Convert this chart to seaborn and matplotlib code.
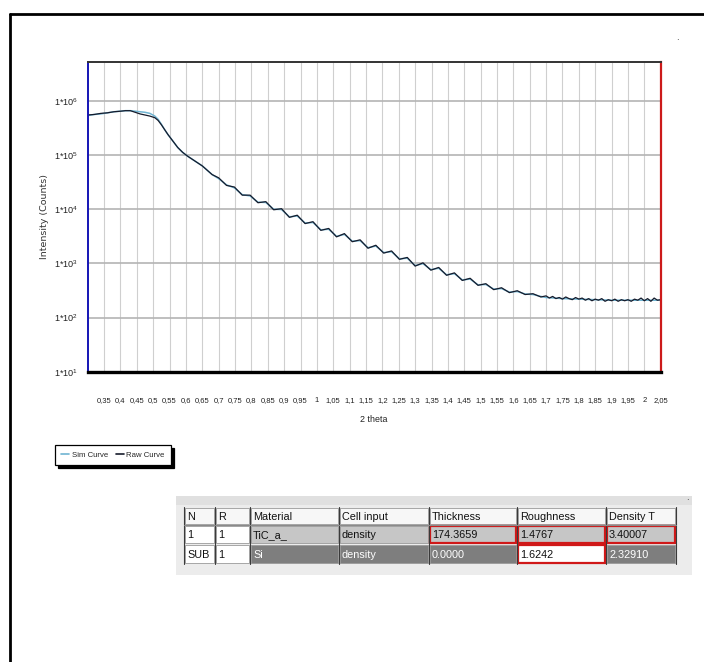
import numpy as np
import pandas as pd
import matplotlib
matplotlib.use("Agg")
import matplotlib.pyplot as plt
import seaborn as sns
from matplotlib.lines import Line2D
from matplotlib.patches import Rectangle
from matplotlib.ticker import FixedLocator, FixedFormatter, LogLocator, NullFormatter, MultipleLocator

# ---------------- data (log10 of counts) ----------------
early_two_theta = [0.300, 0.320, 0.340, 0.360, 0.380, 0.400, 0.415, 0.430, 0.445, 0.460,
                   0.475, 0.490, 0.505, 0.515, 0.525, 0.535, 0.545, 0.555, 0.565, 0.575,
                   0.590, 0.605, 0.620, 0.635, 0.650, 0.665, 0.680]
early_raw_log = [5.74, 5.75, 5.77, 5.78, 5.80, 5.81, 5.82, 5.82, 5.79, 5.76,
                 5.74, 5.72, 5.69, 5.64, 5.56, 5.47, 5.38, 5.30, 5.22, 5.14,
                 5.05, 4.98, 4.92, 4.86, 4.80, 4.72, 4.64]
early_sim_log = [5.73, 5.75, 5.76, 5.78, 5.80, 5.81, 5.82, 5.82, 5.81, 5.80,
                 5.79, 5.77, 5.72, 5.66, 5.57, 5.47, 5.38, 5.30, 5.22, 5.14,
                 5.05, 4.98, 4.92, 4.86, 4.80, 4.72, 4.64]

fringe_two_theta = [0.700, 0.724, 0.748, 0.772, 0.796, 0.820, 0.844, 0.868, 0.892, 0.916,
                    0.940, 0.964, 0.988, 1.012, 1.036, 1.060, 1.084, 1.108, 1.132, 1.156,
                    1.180, 1.204, 1.228, 1.252, 1.276, 1.300, 1.324, 1.348, 1.372, 1.396,
                    1.420, 1.444, 1.468, 1.492, 1.516, 1.540, 1.564, 1.588, 1.612, 1.636,
                    1.660, 1.684]
fringe_raw_log = [4.58, 4.44, 4.41, 4.26, 4.26, 4.12, 4.14, 3.99, 4.01, 3.85,
                  3.89, 3.735, 3.77, 3.61, 3.645, 3.49, 3.55, 3.40, 3.435, 3.28,
                  3.335, 3.19, 3.23, 3.075, 3.11, 2.95, 3.01, 2.875, 2.925, 2.78,
                  2.825, 2.685, 2.725, 2.595, 2.625, 2.515, 2.55, 2.46, 2.495, 2.425,
                  2.44, 2.38]
fringe_sim_log = [4.565, 4.45, 4.395, 4.27, 4.245, 4.13, 4.125, 4.00, 3.995, 3.86,
                  3.875, 3.745, 3.755, 3.62, 3.63, 3.50, 3.535, 3.41, 3.42, 3.29,
                  3.32, 3.20, 3.215, 3.085, 3.095, 2.96, 2.995, 2.885, 2.91, 2.79,
                  2.81, 2.695, 2.71, 2.605, 2.61, 2.525, 2.535, 2.47, 2.48, 2.435,
                  2.425, 2.39]

tail_raw_two_theta = [1.700, 1.710, 1.720, 1.730, 1.740, 1.750, 1.760, 1.770, 1.780, 1.790,
                      1.800, 1.810, 1.820, 1.830, 1.840, 1.850, 1.860, 1.870, 1.880, 1.890,
                      1.900, 1.910, 1.920, 1.930, 1.940, 1.950, 1.960, 1.970, 1.980, 1.990,
                      2.000, 2.010, 2.020, 2.030, 2.040, 2.050]
tail_raw_log = [2.40, 2.36, 2.39, 2.35, 2.37, 2.34, 2.38, 2.35, 2.33, 2.37,
                2.34, 2.36, 2.32, 2.35, 2.31, 2.34, 2.32, 2.35, 2.30, 2.33,
                2.31, 2.34, 2.30, 2.33, 2.31, 2.33, 2.30, 2.34, 2.32, 2.36,
                2.31, 2.35, 2.30, 2.36, 2.32, 2.33]
tail_sim_two_theta = [1.70, 1.75, 1.80, 1.85, 1.90, 1.95, 2.00, 2.05]
tail_sim_log = [2.37, 2.35, 2.34, 2.33, 2.32, 2.32, 2.32, 2.32]

y_tick_values = [1e1, 1e2, 1e3, 1e4, 1e5, 1e6]
y_tick_labels = [r"1*10$^{1}$", r"1*10$^{2}$", r"1*10$^{3}$", r"1*10$^{4}$",
                 r"1*10$^{5}$", r"1*10$^{6}$"]
x_tick_values = [0.35, 0.40, 0.45, 0.50, 0.55, 0.60, 0.65, 0.70, 0.75, 0.80, 0.85, 0.90,
                 0.95, 1.00, 1.05, 1.10, 1.15, 1.20, 1.25, 1.30, 1.35, 1.40, 1.45, 1.50,
                 1.55, 1.60, 1.65, 1.70, 1.75, 1.80, 1.85, 1.90, 1.95, 2.00, 2.05]
x_tick_labels = ["0,35", "0,4", "0,45", "0,5", "0,55", "0,6", "0,65", "0,7", "0,75", "0,8",
                 "0,85", "0,9", "0,95", "1", "1,05", "1,1", "1,15", "1,2", "1,25", "1,3",
                 "1,35", "1,4", "1,45", "1,5", "1,55", "1,6", "1,65", "1,7", "1,75", "1,8",
                 "1,85", "1,9", "1,95", "2", "2,05"]

series_names = ["Sim Curve", "Raw Curve"]

table_columns = ["N", "R", "Material", "Cell input", "Thickness", "Roughness", "Density T"]
table_row1 = ["1", "1", "TiC_a_", "density", "174.3659", "1.4767", "3.40007"]
table_row2 = ["SUB", "1", "Si", "density", "0.0000", "1.6242", "2.32910"]

# ---------------- build frames ----------------
raw_df = pd.DataFrame({
    "two_theta": early_two_theta + fringe_two_theta + tail_raw_two_theta,
    "intensity": 10 ** np.array(early_raw_log + fringe_raw_log + tail_raw_log),
})
sim_df = pd.DataFrame({
    "two_theta": early_two_theta + fringe_two_theta + tail_sim_two_theta,
    "intensity": 10 ** np.array(early_sim_log + fringe_sim_log + tail_sim_log),
})

# ---------------- style ----------------
sns.set_style("white")
SANS = ["Liberation Sans", "DejaVu Sans"]
plt.rcParams["font.family"] = SANS
plt.rcParams["mathtext.fontset"] = "custom"
plt.rcParams["mathtext.rm"] = "Liberation Sans"
plt.rcParams["mathtext.it"] = "Liberation Sans"

W, H = 704, 662
fig = plt.figure(figsize=(W / 100, H / 100), dpi=100)
fig.patch.set_facecolor("white")

def fx(px):
    return px / W

def fy(py):
    return 1 - py / H

ax_l, ax_r, ax_t, ax_b = 87.7, 660.7, 61.7, 371.7
ax = fig.add_axes([fx(ax_l), fy(ax_b), fx(ax_r - ax_l), (ax_b - ax_t) / H])

SIM_COLOR = "#6fb4d2"
RAW_COLOR = "#161b2b"
sns.lineplot(data=sim_df, x="two_theta", y="intensity", ax=ax, color=SIM_COLOR,
             linewidth=1.1, sort=False, legend=False)
sns.lineplot(data=raw_df, x="two_theta", y="intensity", ax=ax, color=RAW_COLOR,
             linewidth=0.9, sort=False, legend=False)

ax.set_yscale("log")
ax.set_xlim(0.3, 2.05)
ax.set_ylim(10, 5.3e6)

ax.yaxis.set_major_locator(FixedLocator(y_tick_values))
ax.yaxis.set_major_formatter(FixedFormatter(y_tick_labels))
ax.yaxis.set_minor_locator(LogLocator(base=10, subs=[2, 3, 4, 5, 6, 7, 8, 9]))
ax.yaxis.set_minor_formatter(NullFormatter())
ax.xaxis.set_major_locator(FixedLocator(x_tick_values))
ax.xaxis.set_major_formatter(FixedFormatter(x_tick_labels))
ax.xaxis.set_minor_locator(MultipleLocator(0.0125))

ax.grid(axis="x", which="major", color="#cfcfcf", linewidth=0.8)
ax.grid(axis="y", which="major", color="#b4b4b4", linewidth=1.2)
ax.set_axisbelow(True)

ax.tick_params(axis="x", which="major", direction="out", length=6.5, width=0.6,
               color="#555555", labelsize=5.5, pad=12, labelcolor="#222222")
ax.tick_params(axis="x", which="minor", direction="out", length=3.6, width=0.6, color="#777777")
ax.tick_params(axis="y", which="major", direction="out", length=3.6, width=0.7,
               color="#555555", labelsize=6.6, pad=3, labelcolor="#222222")
ax.tick_params(axis="y", which="minor", direction="out", length=2.2, width=0.6, color="#777777")

ax.spines["left"].set_color("#1414b4")
ax.spines["left"].set_linewidth(1.4)
ax.spines["right"].set_color("#cc1a1a")
ax.spines["right"].set_linewidth(1.6)
ax.spines["top"].set_color("#333333")
ax.spines["top"].set_linewidth(1.4)
ax.spines["bottom"].set_color("black")
ax.spines["bottom"].set_linewidth(2.4)
for s in ax.spines.values():
    s.set_visible(True)

plot_w = ax_r - ax_l
plot_h = ax_b - ax_t
ax.set_xlabel("2 theta", fontsize=6.4, color="#222222")
ax.xaxis.set_label_coords(0.5, -(415.5 - ax_b) / plot_h)
ax.set_ylabel("Intensity (Counts)", fontsize=6.8, family=["DejaVu Sans"], color="#333333")
ax.yaxis.set_label_coords(-(ax_l - 49) / plot_w, 0.5)

# legend
handles = [Line2D([], [], color=SIM_COLOR, linewidth=1.2),
           Line2D([], [], color=RAW_COLOR, linewidth=1.2)]
leg = ax.legend(handles, series_names, loc="upper left", bbox_to_anchor=(fx(55), fy(445)),
                bbox_transform=fig.transFigure, ncol=2, frameon=True, fancybox=False,
                edgecolor="black", fontsize=5.6, handlelength=1.0, handletextpad=0.35,
                columnspacing=1.0, borderpad=0.8, borderaxespad=0,
                shadow={"color": "black", "alpha": 1.0})
leg.get_frame().set_linewidth(0.9)

# outer frame of the screenshot
fig.add_artist(Line2D([fx(10), 1.0], [fy(14), fy(14)], transform=fig.transFigure,
                      color="black", linewidth=2.0))
fig.add_artist(Line2D([fx(10), fx(10)], [fy(14), 0.0], transform=fig.transFigure,
                      color="black", linewidth=2.0))
fig.text(fx(676), fy(40), ".", fontsize=7, color="#333333")

# ---------------- table panel ----------------
pan_l, pan_r, pan_t, pan_b = 176, 692, 496, 575
tax = fig.add_axes([fx(pan_l), fy(pan_b), fx(pan_r - pan_l), (pan_b - pan_t) / H])
tax.set_xlim(pan_l, pan_r)
tax.set_ylim(pan_b, pan_t)
tax.axis("off")
tax.add_patch(Rectangle((pan_l, pan_t), pan_r - pan_l, pan_b - pan_t, facecolor="#ececec",
                        edgecolor="none"))
tax.add_patch(Rectangle((pan_l, pan_t), pan_r - pan_l, 9, facecolor="#e0e0e0",
                        edgecolor="none"))
tax.text(687, 497, ".", fontsize=7, color="#333333", ha="center", va="center")

col_edges = [184, 215, 250, 339, 429, 517, 606, 676]
row_edges = [507, 525, 544, 564]
rows = [table_columns, table_row1, table_row2]

for r in range(3):
    for c in range(7):
        x0, x1 = col_edges[c], col_edges[c + 1]
        y0, y1 = row_edges[r], row_edges[r + 1]
        txt_color = "#111111"
        edge = "#9a9a9a"
        lw = 0.6
        if r == 0:
            face = "#f7f7f7"
        elif r == 1:
            face = "white" if c < 2 else "#c6c6c6"
            if c >= 4:
                edge, lw = "#d01818", 1.6
        else:
            face = "white" if c < 2 else "#7e7e7e"
            if c >= 2:
                txt_color = "white"
            if c == 5:
                face, edge, lw, txt_color = "white", "#d01818", 1.6, "#111111"
        inset = 1.0
        tax.add_patch(Rectangle((x0 + inset, y0 + inset), x1 - x0 - 2 * inset,
                                y1 - y0 - 2 * inset, facecolor=face, edgecolor=edge,
                                linewidth=lw))
        tax.text(x0 + 3, (y0 + y1) / 2 + 0.5, rows[r][c], fontsize=7.8, color=txt_color,
                 ha="left", va="center")
for xe in col_edges:
    tax.plot([xe, xe], [row_edges[0], row_edges[-1]], color="#3a3a3a", linewidth=0.8)
tax.plot([col_edges[0], col_edges[-1]], [row_edges[1], row_edges[1]], color="#8a8a8a",
         linewidth=0.8)

fig.savefig("out.png", dpi=100)
